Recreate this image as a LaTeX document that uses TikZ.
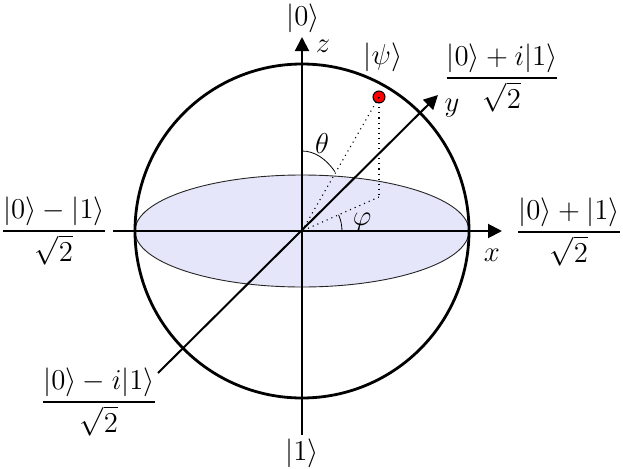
\documentclass[tikz,border=0pt]{standalone}
\usepackage{amsmath}
\usetikzlibrary{arrows.meta}
\definecolor{disk}{RGB}{230,230,250}
\begin{document}
\begin{tikzpicture}[x=0.5pt,y=0.5pt,
  every node/.style={font=\fontsize{14}{17}\selectfont, inner sep=0pt},
  axis/.style={line width=1pt, -{Triangle[length=7pt,width=7pt]}},
  guide/.style={line width=0.55pt, dotted},
  arcline/.style={line width=0.4pt}]
\useasboundingbox (0,0) rectangle (623,468);
% coordinates
\coordinate (O) at (302,237);
\coordinate (ztop) at (302,431);
\coordinate (zbot) at (302,33);
\coordinate (xl) at (113,237);
\coordinate (xr) at (502,237);
\coordinate (yl) at (158,95);
\coordinate (yr) at (438,373);
\coordinate (Q) at (379,271);
% equatorial disk
\fill[disk] (O) ellipse [x radius=167, y radius=56];
\draw[line width=0.45pt, black!85] (O) ellipse [x radius=167, y radius=56];
% sphere
\draw[line width=1.4pt] (O) circle [radius=167];
% axes
\draw[axis] (zbot) -- (ztop);
\draw[axis] (xl) -- (xr);
\draw[axis] (yl) -- (yr);
% state point
\node[circle, draw, fill=red, line width=0.5pt, minimum size=6pt] (P) at (379,371) {};
\draw[guide] (O) -- (P.center);
\draw[guide] (P.center) -- (Q);
\draw[guide] (Q) -- (O);
% angle arcs
\draw[arcline] (302,317) arc [start angle=90, end angle=47.8, x radius=49, y radius=80];
\draw[arcline] (342,237) arc [start angle=0, end angle=23.8, radius=40];
% labels
\node (l0) at (303,450) {$|0\rangle$};
\node (l1) at (302,15) {$|1\rangle$};
\node (lz) at (323,422) {$z$};
\node (lx) at (492,213) {$x$};
\node (ly) at (452,360) {$y$};
\node (lpsi) at (383,411) {$|\psi\rangle$};
\node (lth) at (322,325) {$\theta$};
\node (lph) at (362,246) {$\varphi$};
\node (fxp) at (569,236) {$\dfrac{|0\rangle+|1\rangle}{\sqrt{2}}$};
\node (fxm) at (54,237) {$\dfrac{|0\rangle-|1\rangle}{\sqrt{2}}$};
\node (fyp) at (502,390) {$\dfrac{|0\rangle+i|1\rangle}{\sqrt{2}}$};
\node (fym) at (99,66) {$\dfrac{|0\rangle-i|1\rangle}{\sqrt{2}}$};
\end{tikzpicture}
\end{document}
